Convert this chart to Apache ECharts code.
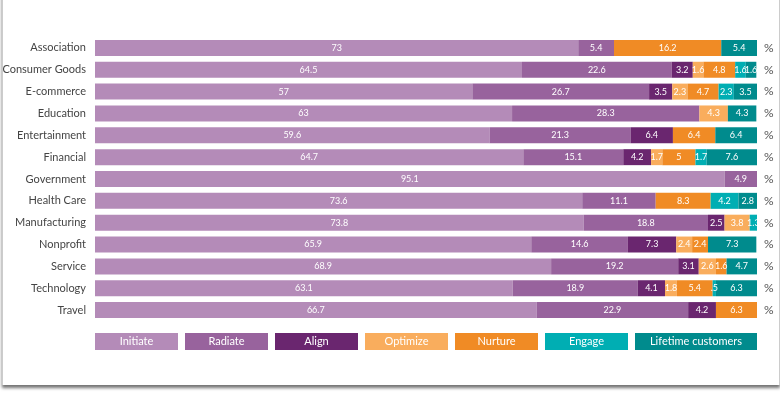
<!DOCTYPE html>
<html>
<head>
<meta charset="utf-8">
<script src="https://cdn.jsdelivr.net/npm/echarts@6/dist/echarts.min.js"></script>
<style>
  html, body { margin: 0; padding: 0; background: #fff; overflow: hidden; }
  .card {
    position: absolute; left: 2px; top: -10px; width: 776px; height: 395px;
    background: #fff; border-left: 1px solid #ccc; border-right: 1px solid #ccc;
    box-shadow: 0 3px 3px rgba(0,0,0,0.55);
  }
  #chart { position: absolute; left: 0; top: 0; width: 780px; height: 397px; }
</style>
</head>
<body>
<div class="card"></div>
<div id="chart"></div>
<script>
// industries, top to bottom
const industries = ['Association', 'Consumer Goods', 'E-commerce', 'Education', 'Entertainment',
  'Financial', 'Government', 'Health Care', 'Manufacturing', 'Nonprofit', 'Service',
  'Technology', 'Travel'];

const stages = ['Initiate', 'Radiate', 'Align', 'Optimize', 'Nurture', 'Engage', 'Lifetime customers'];
const colors = ['#b48bb8', '#98639d', '#6a266f', '#f9ad5d', '#f08b25', '#00aeb3', '#008b8d'];

// percent per stage (null = no segment)
const initiate = [73, 64.5, 57, 63, 59.6, 64.7, 95.1, 73.6, 73.8, 65.9, 68.9, 63.1, 66.7];
const radiate  = [5.4, 22.6, 26.7, 28.3, 21.3, 15.1, 4.9, 11.1, 18.8, 14.6, 19.2, 18.9, 22.9];
const align    = [null, 3.2, 3.5, null, 6.4, 4.2, null, null, 2.5, 7.3, 3.1, 4.1, 4.2];
const optimize = [null, 1.6, 2.3, 4.3, null, 1.7, null, null, 3.8, 2.4, 2.6, 1.8, null];
const nurture  = [16.2, 4.8, 4.7, null, 6.4, 5, null, 8.3, null, 2.4, 1.6, 5.4, 6.3];
const engage   = [null, 1.6, 2.3, null, null, 1.7, null, 4.2, 1.3, null, null, 0.5, null];
const lifetime = [5.4, 1.6, 3.5, 4.3, 6.4, 7.6, null, 2.8, null, 7.3, 4.7, 6.3, null];

const values = [initiate, radiate, align, optimize, nurture, engage, lifetime];
const legendWidths = [83, 83, 83, 83, 83, 83, 122];

const FONT = 'Lato, "Open Sans", sans-serif';

const chart = echarts.init(document.getElementById('chart'));

const rich = {};
stages.forEach((s, i) => {
  rich['s' + i] = {
    backgroundColor: colors[i], color: '#fff', width: legendWidths[i], height: 17,
    lineHeight: 17, align: 'center', fontSize: 11, fontFamily: FONT
  };
});

chart.setOption({
  animation: false,
  grid: { left: 95, right: 23, top: 37, height: 284, outerBoundsMode: 'none', containLabel: false },
  legend: {
    left: 90, top: 333, padding: 0, itemGap: 2, itemWidth: 0, itemHeight: 0,
    selectedMode: false, icon: 'rect',
    data: stages,
    formatter: name => '{s' + stages.indexOf(name) + '|' + name + '}',
    textStyle: { rich: rich }
  },
  xAxis: {
    type: 'value', min: 0, max: 100, show: false
  },
  yAxis: [
    {
      type: 'category', data: industries, inverse: true,
      axisLine: { show: false }, axisTick: { show: false },
      axisLabel: { margin: 9, color: '#444', fontSize: 11, fontFamily: FONT }
    },
    {
      type: 'category', data: industries, inverse: true, position: 'right',
      axisLine: { show: false }, axisTick: { show: false },
      axisLabel: { margin: 7, color: '#555', fontSize: 12, fontFamily: FONT, formatter: () => '%' }
    }
  ],
  series: stages.map((s, i) => ({
    name: s,
    type: 'bar',
    stack: 'total',
    barWidth: 16,
    data: values[i],
    itemStyle: { color: colors[i] },
    label: {
      show: true, position: 'inside', color: '#fff', fontSize: 9, fontFamily: FONT,
      formatter: p => (p.value ? String(p.value).replace(/^0\./, '.') : '')
    },
    emphasis: { disabled: true }
  }))
});
</script>
</body>
</html>
